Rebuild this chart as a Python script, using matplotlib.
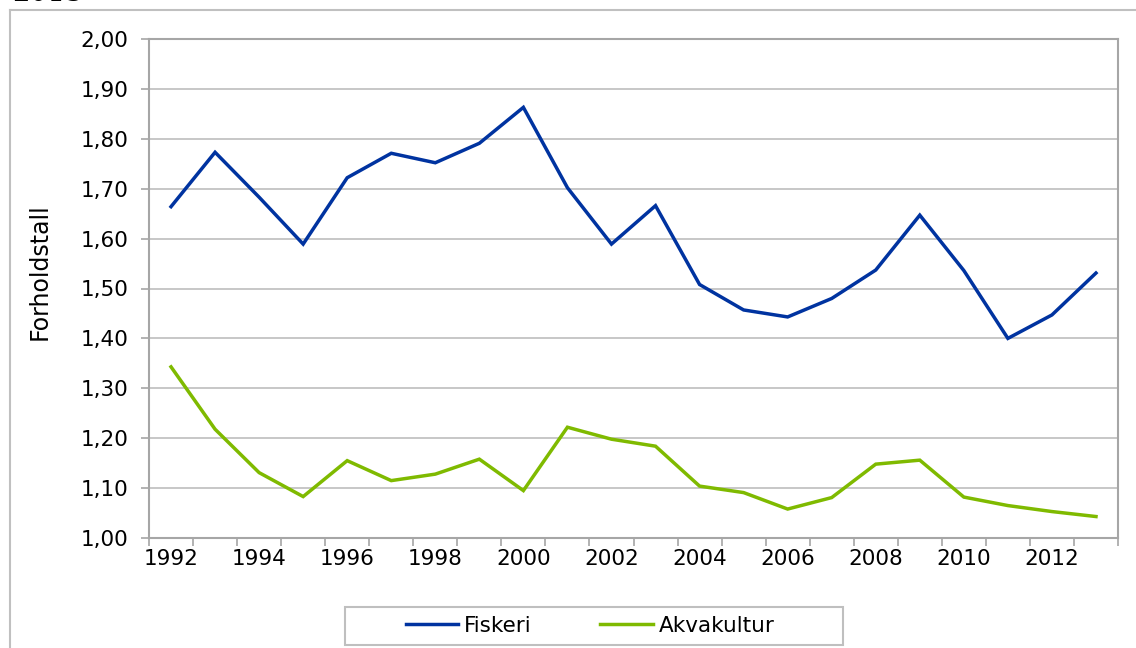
import numpy as np
import matplotlib
matplotlib.use("Agg")
from matplotlib import pyplot as plt
from matplotlib.patches import Rectangle

years = list(range(1992, 2014))
fiskeri = [1.664, 1.773, 1.683, 1.589, 1.722, 1.771, 1.752, 1.791, 1.863, 1.702, 1.589,
           1.666, 1.508, 1.457, 1.443, 1.480, 1.537, 1.647, 1.536, 1.400, 1.447, 1.531]
akvakultur = [1.343, 1.218, 1.131, 1.083, 1.155, 1.115, 1.128, 1.158, 1.095, 1.222, 1.198,
              1.184, 1.104, 1.091, 1.058, 1.081, 1.148, 1.156, 1.082, 1.065, 1.053, 1.043]
yticks = [1.0, 1.1, 1.2, 1.3, 1.4, 1.5, 1.6, 1.7, 1.8, 1.9, 2.0]
ytick_labels = ["1,00", "1,10", "1,20", "1,30", "1,40", "1,50", "1,60", "1,70", "1,80", "1,90", "2,00"]

blue = "#0033a0"
green = "#7fba00"
grey = "#a6a6a6"
fs = 15.5

W, H = 1136, 648
fig = plt.figure(figsize=(W / 100, H / 100), dpi=100)
ax = fig.add_axes([149 / W, 1 - 538 / H, (1118 - 149) / W, (538 - 39) / H])

x = np.arange(len(years))
ax.plot(x, fiskeri, color=blue, lw=2.5, label="Fiskeri", solid_joinstyle="miter")
ax.plot(x, akvakultur, color=green, lw=2.5, label="Akvakultur", solid_joinstyle="miter")

ax.set_xlim(-0.5, len(years) - 0.5)
ax.set_ylim(1.0, 2.0)
ax.set_yticks(yticks)
ax.set_yticklabels(ytick_labels)
ax.set_xticks(np.arange(-0.5, len(years), 1.0))
ax.set_xticklabels([])
ax.set_xticks(x[::2], minor=True)
ax.set_xticklabels([str(y) for y in years[::2]], minor=True)
ax.tick_params(axis="x", which="major", length=6, color=grey, width=1.2)
ax.tick_params(axis="x", which="minor", length=0, labelsize=fs, pad=8)
ax.tick_params(axis="y", length=6, color=grey, width=1.2, labelsize=fs, pad=9)
ax.grid(axis="y", color="#bebebe", lw=1.2)
ax.set_axisbelow(True)
for s in ax.spines.values():
    s.set_color(grey)
    s.set_linewidth(1.5)

fig.text(40 / W, 1 - 272 / H, "Forholdstall", rotation=90, fontsize=17, ha="center", va="center")

# outer frame of the chart area
fig.add_artist(plt.Line2D([10 / W, 10 / W], [0, 1 - 10 / H], color="#c0c0c0", lw=1.5))
fig.add_artist(plt.Line2D([10 / W, 1], [1 - 10 / H, 1 - 10 / H], color="#c0c0c0", lw=1.5))
fig.text(12 / W, 1 - 1 / H, "2013", fontsize=20, family="DejaVu Serif", va="baseline")

# legend frame drawn as a box, wider than its content
fig.add_artist(Rectangle((345 / W, 1 - 645 / H), (843 - 345) / W, 38 / H, transform=fig.transFigure,
                         facecolor="white", edgecolor="#bfbfbf", lw=1.5))
leg = fig.legend(loc="center", bbox_to_anchor=(590 / W, 1 - 626 / H), ncol=2, fontsize=fs,
                 frameon=False, handlelength=2.45, handletextpad=0.25, columnspacing=3.2,
                 borderpad=0, borderaxespad=0)

fig.savefig("out.png", dpi=100)
